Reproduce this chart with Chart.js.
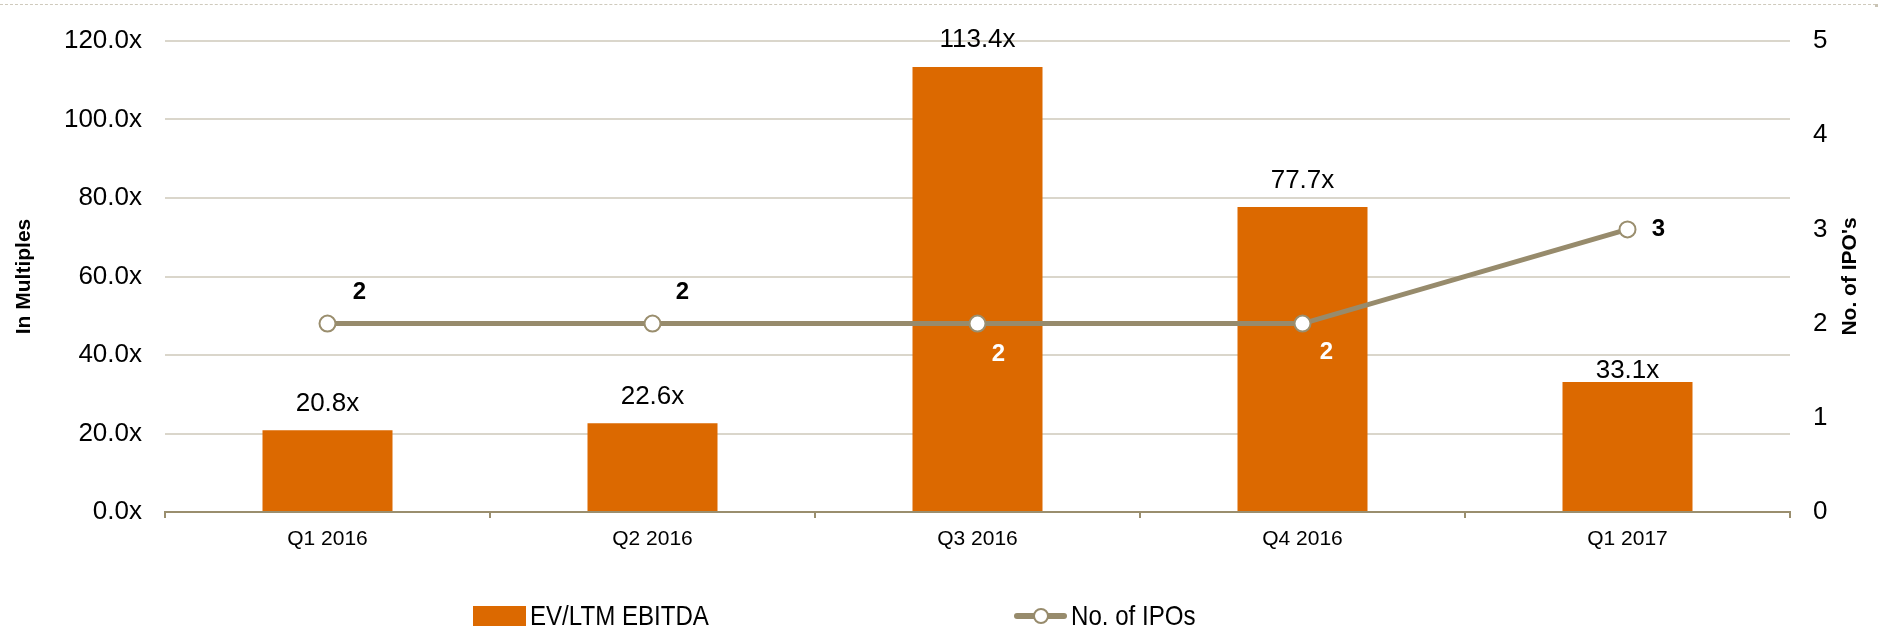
<!DOCTYPE html>
<html>
<head>
<meta charset="utf-8">
<script src="https://cdn.jsdelivr.net/npm/chart.js@4.4.1/dist/chart.umd.min.js"></script>
<style>
  html, body { margin: 0; padding: 0; background: #fff; }
  #wrap { position: relative; width: 1889px; height: 631px; font-family: "Liberation Sans", Arial, sans-serif; }
  #frameLine { position: absolute; left: 0; top: 4px; width: 1876px; border-top: 1px dashed #cfcabd; }
  #frameDot { position: absolute; left: 1875px; top: 4px; width: 3px; height: 3px; background: #c9c3b4; }
  .legend-item { position: absolute; top: 604px; height: 24px; display: flex; align-items: center; }
  .legend-item .txt { display: inline-block; font-size: 28px; color: #000; transform: scaleX(0.86); transform-origin: left center; white-space: nowrap; margin-left: 4px; }
  .sw-bar { width: 53px; height: 20px; background: #dc6900; }
  .sw-line { position: relative; width: 53px; height: 20px; }
  .sw-line::before { content: ""; position: absolute; left: 0; right: 0; top: 7px; height: 6px; border-radius: 3px; background: #978b6c; }
  .sw-line::after { content: ""; position: absolute; left: 19px; top: 2px; width: 12px; height: 12px; border: 2px solid #978b6c; border-radius: 50%; background: #fff; }
</style>
</head>
<body>
<div id="wrap">
  <canvas id="ipoChart" width="1889" height="631"></canvas>
  <div id="frameLine"></div>
  <div id="frameDot"></div>
  <div class="legend-item" style="left:473px"><span class="sw-bar"></span><span class="txt">EV/LTM EBITDA</span></div>
  <div class="legend-item" style="left:1014px"><span class="sw-line"></span><span class="txt">No. of IPOs</span></div>
</div>
<script>
const quarters = ["Q1 2016", "Q2 2016", "Q3 2016", "Q4 2016", "Q1 2017"];
const evEbitda = [20.8, 22.6, 113.4, 77.7, 33.1];
const ipoCounts = [2, 2, 2, 2, 3];
const multipleTicks = [0, 20, 40, 60, 80, 100, 120];
const ipoTicks = [0, 1, 2, 3, 4, 5];

const FONT = '"Liberation Sans", Arial, sans-serif';
const BAR_COLOR = "#dc6900";
const LINE_COLOR = "#978b6c";
const AXIS_COLOR = "#9a8e6e";
const GRID_COLOR = "#dad6cb";

// label placement relative to each mark (px)
const barLabelLift = [27, 26, 27, 26, 11];
const ipoLabelShift = [[32, -31], [30, -31], [21, 31], [24, 29], [31, 0]];
const ipoLabelColor = ["#000", "#000", "#fff", "#fff", "#000"];

const valueLabels = {
  id: "valueLabels",
  afterDatasetsDraw(chart) {
    const { ctx } = chart;
    ctx.save();
    ctx.textAlign = "center";
    ctx.textBaseline = "middle";

    ctx.font = `26px ${FONT}`;
    ctx.fillStyle = "#000";
    chart.getDatasetMeta(1).data.forEach((bar, i) => {
      ctx.fillText(`${evEbitda[i].toFixed(1)}x`, bar.x, bar.y - barLabelLift[i]);
    });

    ctx.font = `bold 24px ${FONT}`;
    chart.getDatasetMeta(0).data.forEach((pt, i) => {
      ctx.fillStyle = ipoLabelColor[i];
      ctx.fillText(String(ipoCounts[i]), pt.x + ipoLabelShift[i][0], pt.y + ipoLabelShift[i][1]);
    });
    ctx.restore();
  },
  afterDraw(chart) {
    // right axis title reads bottom-to-top like the left one
    const { ctx, chartArea, scales } = chart;
    ctx.save();
    ctx.translate(scales.y2.right - 39, (chartArea.top + chartArea.bottom) / 2);
    ctx.rotate(-Math.PI / 2);
    ctx.textAlign = "center";
    ctx.textBaseline = "middle";
    ctx.font = `bold 21px ${FONT}`;
    ctx.fillStyle = "#000";
    ctx.fillText("No. of IPO's", 0, 0);
    ctx.restore();
  },
};

new Chart(document.getElementById("ipoChart"), {
  data: {
    labels: quarters,
    datasets: [
      {
        type: "line",
        label: "No. of IPOs",
        data: ipoCounts,
        yAxisID: "y2",
        order: 0,
        borderColor: LINE_COLOR,
        borderWidth: 5,
        tension: 0,
        pointRadius: 8,
        pointBorderWidth: 2,
        pointBorderColor: AXIS_COLOR,
        pointBackgroundColor: "#fff",
      },
      {
        type: "bar",
        label: "EV/LTM EBITDA",
        data: evEbitda,
        yAxisID: "y",
        order: 1,
        backgroundColor: BAR_COLOR,
        barPercentage: 0.4,
        categoryPercentage: 1,
      },
    ],
  },
  options: {
    responsive: false,
    animation: false,
    layout: { padding: { top: 41, left: 0, right: 0, bottom: 0 } },
    plugins: { legend: { display: false }, tooltip: { enabled: false } },
    scales: {
      x: {
        grid: { display: true, offset: true, drawOnChartArea: false, drawTicks: true, tickLength: 6, color: AXIS_COLOR, lineWidth: 2 },
        border: { display: true, color: AXIS_COLOR, width: 2 },
        ticks: { color: "#000", padding: 9, font: { family: FONT, size: 21 } },
        afterFit(scale) { scale.height = 119; },
      },
      y: {
        position: "left",
        min: 0,
        max: 120,
        afterBuildTicks(scale) { scale.ticks = multipleTicks.map((v) => ({ value: v })); },
        grid: { color: GRID_COLOR, lineWidth: 2, drawTicks: false },
        border: { display: false },
        ticks: { color: "#000", padding: 23, font: { family: FONT, size: 26 }, callback: (v) => `${Number(v).toFixed(1)}x` },
        title: { display: true, text: "In Multiples", color: "#000", font: { family: FONT, size: 21, weight: "bold" }, padding: { top: 12, bottom: 0 } },
        afterFit(scale) { scale.width = 165; },
      },
      y2: {
        position: "right",
        min: 0,
        max: 5,
        afterBuildTicks(scale) { scale.ticks = ipoTicks.map((v) => ({ value: v })); },
        grid: { display: false, drawTicks: false },
        border: { display: false },
        ticks: { color: "#000", padding: 23, font: { family: FONT, size: 26 } },
        afterFit(scale) { scale.width = 99; },
      },
    },
  },
  plugins: [valueLabels],
});
</script>
</body>
</html>
